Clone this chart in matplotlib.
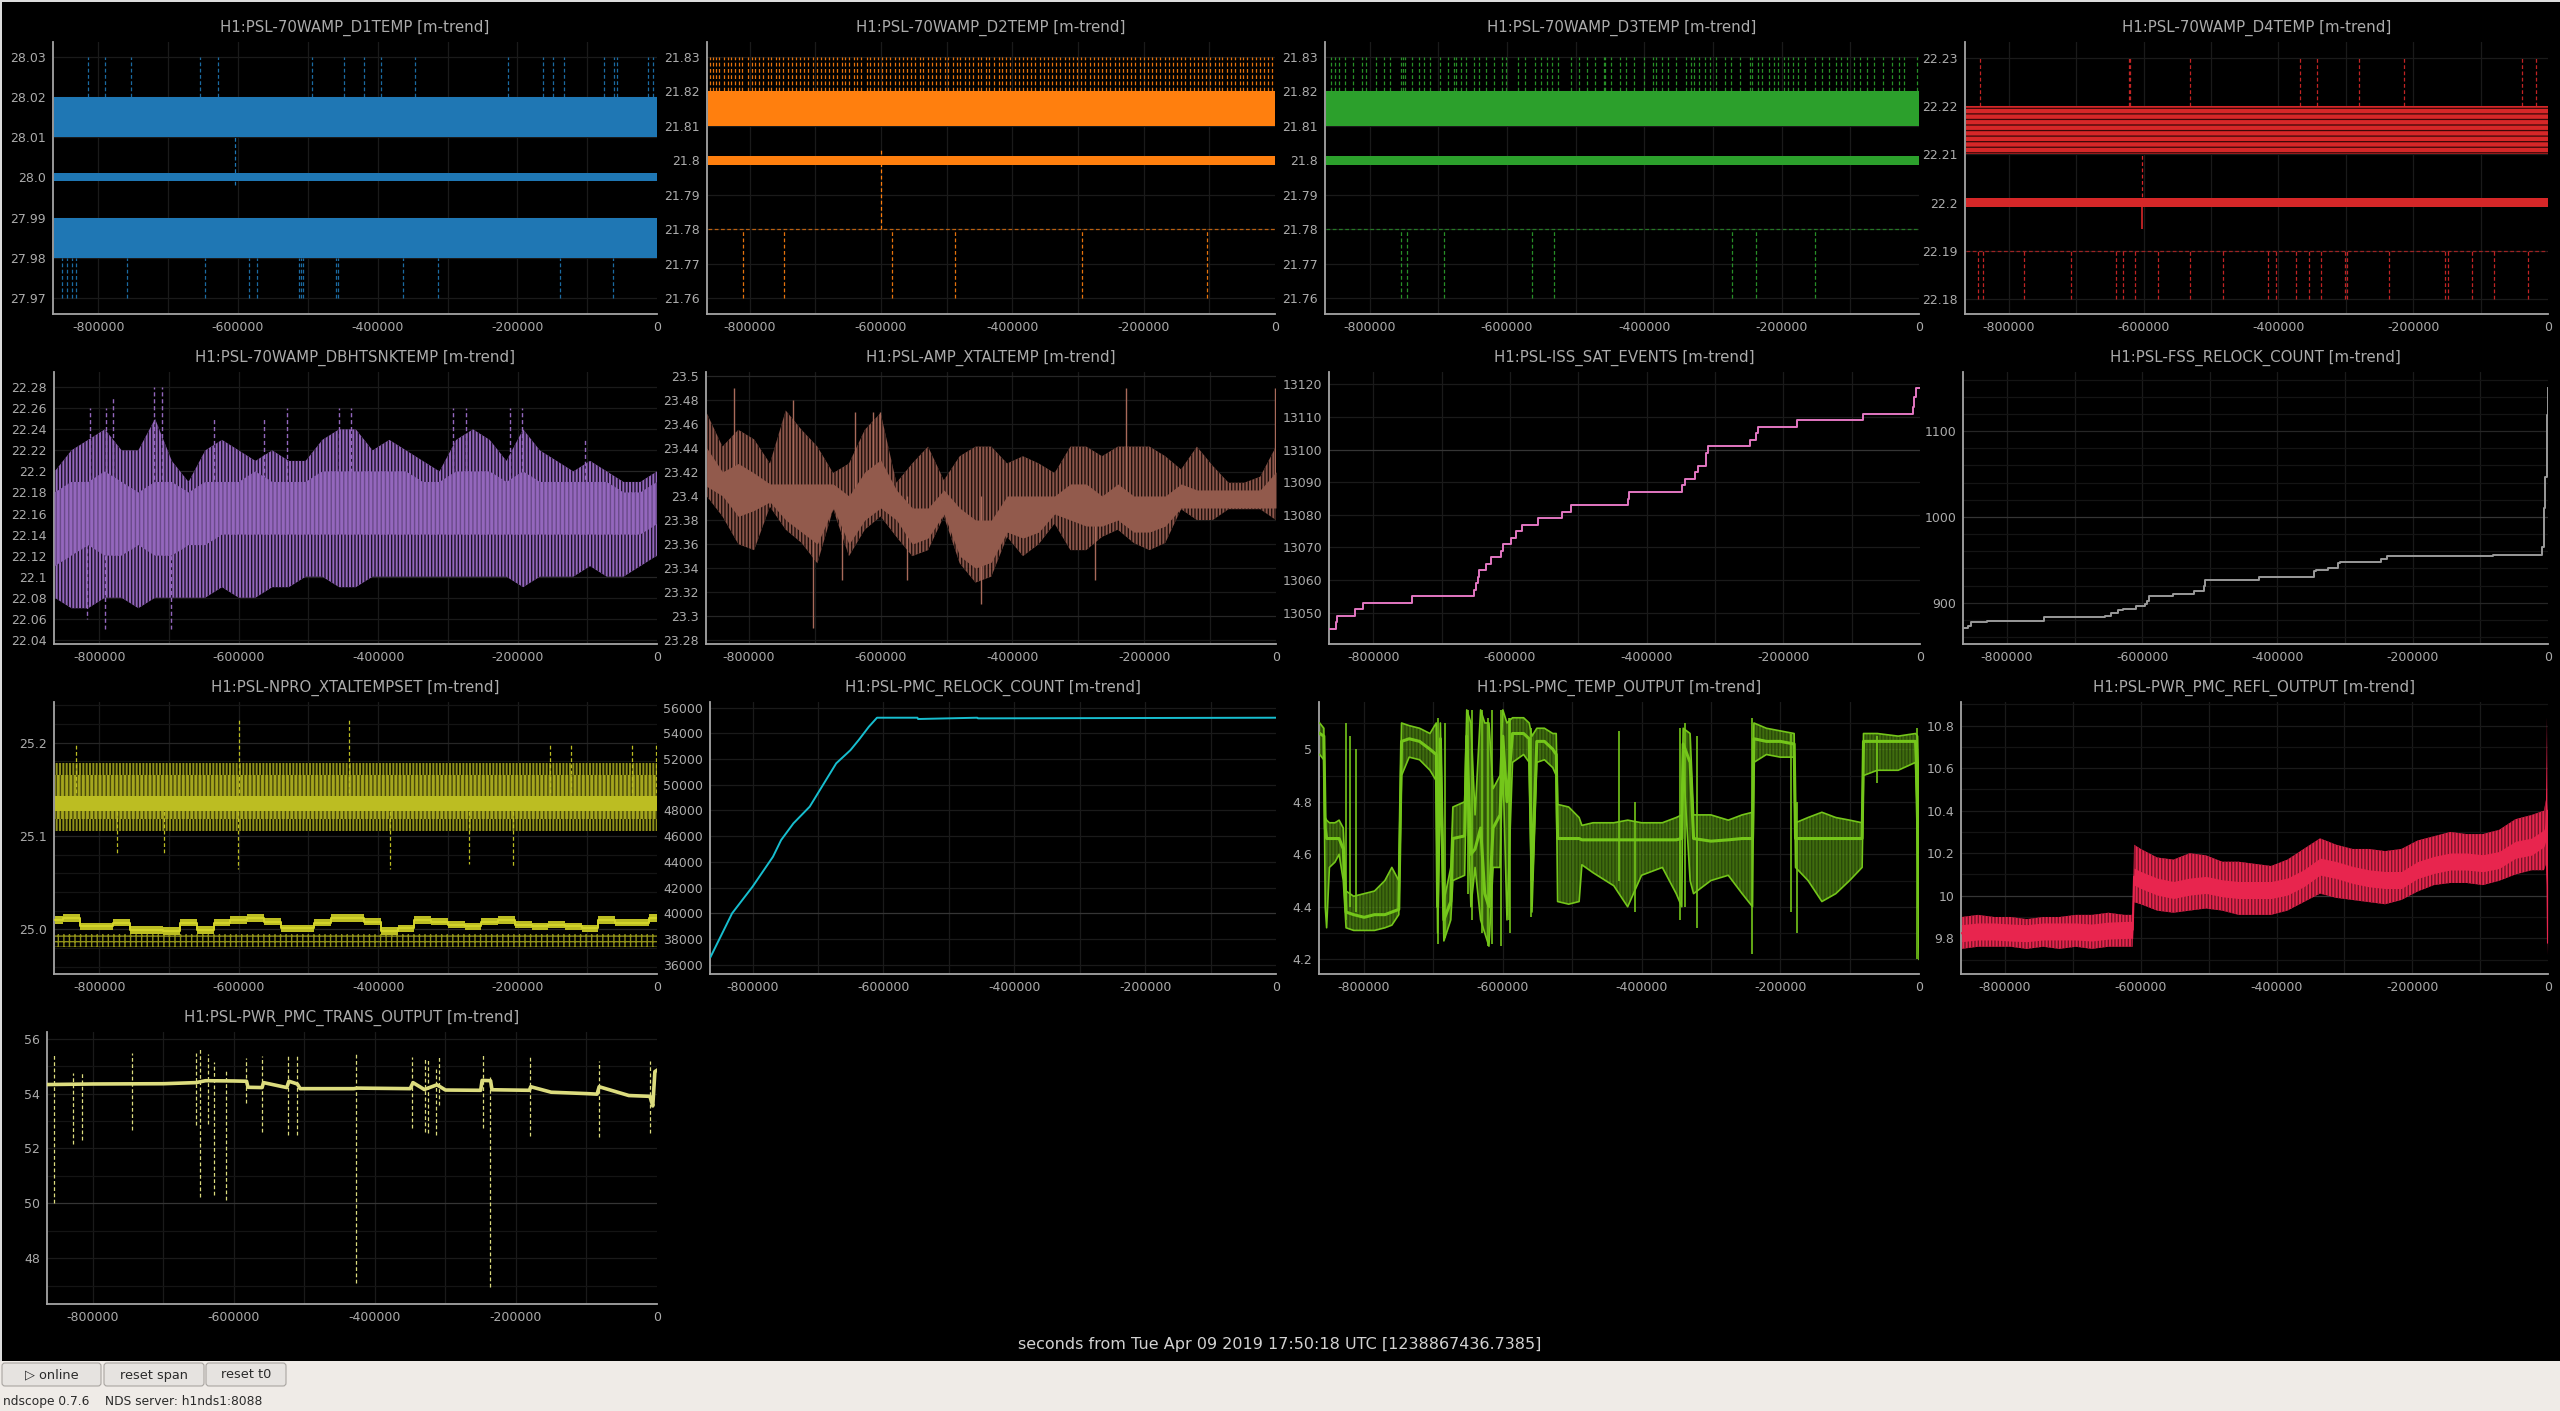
import matplotlib
matplotlib.use('Agg')
import matplotlib.pyplot as plt
from matplotlib.patches import Rectangle, FancyBboxPatch

W, H = 2560, 1411
plt.rcParams['font.family'] = ['DejaVu Sans']
plt.rcParams['hatch.linewidth'] = 1.0
plt.rcParams['axes.unicode_minus'] = False

# ---------------- data ----------------
XMIN = -865000
xticks = [-800000, -600000, -400000, -200000, 0]
xlabels = ['-800000', '-600000', '-400000', '-200000', '0']
xgrid = [-800000, -700000, -600000, -500000, -400000, -300000, -200000, -100000]
span = [-864000, 0]

knots = [-864000, -840000, -816000, -792000, -768000, -744000, -720000, -696000, -672000,
         -648000, -624000, -600000, -576000, -552000, -528000, -504000, -480000, -456000,
         -432000, -408000, -384000, -360000, -336000, -312000, -288000, -264000, -240000,
         -216000, -192000, -168000, -144000, -120000, -96000, -72000, -48000, -24000, 0]

# D1TEMP
d1_up = [-814900, -790700, -753600, -653900, -629000, -494600, -448700, -419000, -394900,
         -346000, -212700, -163900, -149000, -132900, -76400, -61000, -56600, -13300, -5300]
d1_down = [-852100, -845300, -837200, -832300, -759700, -647600, -583900, -573300, -513200,
           -509400, -506400, -459900, -456900, -363300, -313700, -139000, -63400]

# D2TEMP
d2_up = [-861000, -856000, -851000, -846000, -839000, -833000, -829000, -822000, -816000,
         -811000, -803000, -797000, -792000, -786000, -779000, -772000, -768000, -760000,
         -755000, -749000, -741000, -736000, -730000, -723000, -717000, -711000, -704000,
         -698000, -692000, -686000, -679000, -673000, -667000, -660000, -655000, -648000,
         -641000, -636000, -630000, -622000, -617000, -611000, -604000, -598000, -593000,
         -586000, -579000, -573000, -567000, -561000, -554000, -548000, -541000, -536000,
         -529000, -523000, -517000, -510000, -503000, -498000, -491000, -485000, -479000,
         -472000, -466000, -460000, -453000, -447000, -440000, -435000, -428000, -421000,
         -416000, -409000, -403000, -396000, -390000, -384000, -377000, -371000, -365000,
         -358000, -352000, -346000, -339000, -333000, -327000, -320000, -314000, -308000,
         -301000, -295000, -289000, -282000, -276000, -270000, -263000, -257000, -251000,
         -244000, -238000, -232000, -225000, -219000, -213000, -206000, -200000, -194000,
         -187000, -181000, -175000, -168000, -162000, -156000, -149000, -143000, -137000,
         -130000, -124000, -118000, -111000, -105000, -99000, -92000, -86000, -80000,
         -73000, -67000, -61000, -54000, -48000, -42000, -35000, -29000, -23000, -16000,
         -10000, -4000]
d2_down = [-809900, -747800, -583900, -486900, -293200, -104300]

# D3TEMP
d3_up = [-856800, -850900, -844900, -835400, -823500, -811600, -805700, -791400, -779500,
         -770000, -754500, -752100, -748500, -737800, -728300, -721200, -711600, -697400,
         -685500, -677100, -673600, -666400, -659300, -647400, -640300, -630700, -618800,
         -606900, -601000, -584300, -573600, -559300, -551000, -541500, -534300, -526000,
         -507000, -495000, -483200, -471300, -459400, -457000, -448700, -435600, -426000,
         -415300, -401100, -388000, -383200, -374900, -365400, -353500, -339200, -332000,
         -327300, -320100, -311800, -304700, -296300, -283200, -273700, -260600, -246300,
         -242800, -234400, -228500, -219000, -211800, -204700, -196400, -190400, -183300,
         -176100, -165400, -151200, -141700, -131000, -121400, -114300, -104800, -94000,
         -85700, -76200, -65500, -52400, -39300, -29800, -21500, -3600]
d3_down = [-754500, -746200, -691400, -564100, -530800, -272600, -238000, -151200]

# D4TEMP
d4_up = [-842700, -622000, -620500, -530500, -368400, -342700, -280600, -213500, -37900, -18400]
d4_down = [-845100, -837800, -778000, -707300, -640300, -630500, -613500, -579300, -531700,
           -481800, -414700, -403700, -373300, -355000, -336700, -301300, -298900, -235500,
           -152500, -148800, -112300, -79400, -29400]

# DBHTSNKTEMP
dbht_hi = [22.20, 22.22, 22.23, 22.24, 22.22, 22.22, 22.25, 22.21, 22.19, 22.22, 22.23, 22.22,
           22.21, 22.22, 22.21, 22.21, 22.23, 22.24, 22.24, 22.22, 22.23, 22.22, 22.21, 22.20,
           22.23, 22.24, 22.23, 22.21, 22.24, 22.22, 22.21, 22.20, 22.21, 22.20, 22.19, 22.19, 22.20]
dbht_lo = [22.08, 22.07, 22.07, 22.08, 22.08, 22.07, 22.08, 22.08, 22.08, 22.08, 22.09, 22.08,
           22.08, 22.09, 22.09, 22.10, 22.10, 22.09, 22.09, 22.10, 22.10, 22.10, 22.10, 22.10,
           22.10, 22.10, 22.10, 22.10, 22.09, 22.10, 22.10, 22.10, 22.11, 22.10, 22.10, 22.11, 22.12]
dbht_core_hi = [22.18, 22.19, 22.19, 22.20, 22.19, 22.18, 22.19, 22.19, 22.18, 22.19, 22.19, 22.19,
                22.20, 22.19, 22.19, 22.19, 22.20, 22.20, 22.20, 22.20, 22.20, 22.20, 22.19, 22.19,
                22.20, 22.20, 22.20, 22.19, 22.20, 22.19, 22.19, 22.19, 22.19, 22.19, 22.18, 22.18, 22.19]
dbht_core_lo = [22.11, 22.12, 22.13, 22.12, 22.12, 22.13, 22.12, 22.12, 22.13, 22.13, 22.14, 22.14,
                22.14, 22.14, 22.14, 22.14, 22.14, 22.14, 22.14, 22.14, 22.14, 22.14, 22.14, 22.14,
                22.14, 22.14, 22.14, 22.14, 22.14, 22.14, 22.14, 22.14, 22.14, 22.14, 22.14, 22.14, 22.15]
dbht_spk_x = [-814000, -790000, -781000, -721800, -709800, -636000, -563900, -530700, -456500,
              -438400, -292600, -274500, -211000, -193000, -103700, -817000, -791700, -696500]
dbht_spk_y = [22.26, 22.26, 22.27, 22.28, 22.28, 22.25, 22.25, 22.26, 22.26,
              22.26, 22.26, 22.26, 22.26, 22.26, 22.23, 22.06, 22.05, 22.05]

# AMP_XTALTEMP
amp_hi = [23.469, 23.441, 23.455, 23.447, 23.427, 23.471, 23.455, 23.441, 23.419, 23.427, 23.455,
          23.469, 23.411, 23.427, 23.441, 23.413, 23.433, 23.441, 23.441, 23.427, 23.433, 23.427,
          23.419, 23.441, 23.441, 23.433, 23.441, 23.441, 23.441, 23.433, 23.422, 23.441, 23.425,
          23.411, 23.411, 23.416, 23.441]
amp_lo = [23.400, 23.383, 23.360, 23.355, 23.391, 23.372, 23.361, 23.344, 23.389, 23.350, 23.372,
          23.383, 23.366, 23.350, 23.355, 23.383, 23.344, 23.328, 23.333, 23.366, 23.350, 23.360,
          23.377, 23.355, 23.355, 23.366, 23.372, 23.361, 23.355, 23.361, 23.389, 23.380, 23.380,
          23.389, 23.389, 23.389, 23.380]
amp_core_hi = [23.440, 23.420, 23.427, 23.419, 23.410, 23.410, 23.410, 23.410, 23.410, 23.400,
               23.420, 23.430, 23.405, 23.390, 23.390, 23.405, 23.390, 23.380, 23.380, 23.400,
               23.400, 23.400, 23.400, 23.410, 23.410, 23.400, 23.410, 23.400, 23.400, 23.400,
               23.410, 23.405, 23.405, 23.405, 23.405, 23.405, 23.420]
amp_core_lo = [23.408, 23.400, 23.383, 23.388, 23.395, 23.380, 23.370, 23.360, 23.390, 23.360,
               23.380, 23.390, 23.380, 23.360, 23.365, 23.385, 23.350, 23.340, 23.345, 23.370,
               23.365, 23.370, 23.385, 23.380, 23.375, 23.375, 23.380, 23.370, 23.370, 23.375,
               23.390, 23.390, 23.390, 23.390, 23.390, 23.390, 23.390]
amp_spk_x = [-822100, -732800, -639200, -611300, -600200, -226900, -1800,
             -702400, -659100, -559900, -448300, -274600]
amp_spk_y = [23.49, 23.48, 23.47, 23.47, 23.47, 23.49, 23.49,
             23.29, 23.33, 23.33, 23.31, 23.33]

# ISS_SAT_EVENTS
iss_x = [-864000, -854600, -853400, -826700, -815800, -743000, -652600, -650200, -647100, -645400,
         -635000, -627700, -612600, -610100, -598600, -591400, -582900, -559200, -523900, -510600,
         -427500, -425800, -348100, -343800, -329300, -325100, -313500, -310500, -248600, -240100,
         -237000, -180100, -83500, -10200, -8300, -6000, 0]
iss_y = [13045, 13047, 13049, 13051, 13053, 13055, 13057, 13059, 13061, 13063,
         13065, 13067, 13069, 13071, 13073, 13075, 13077, 13079, 13081, 13083,
         13085, 13087, 13089, 13091, 13093, 13095, 13099, 13101, 13103, 13105,
         13107, 13109, 13111, 13113, 13116, 13119, 13119]

# FSS_RELOCK_COUNT
fss_x = [-864000, -858000, -853900, -829000, -745400, -654600, -646200, -635800, -627900, -609800,
         -596400, -593500, -590400, -555200, -523700, -508600, -506800, -426900, -346300, -343300,
         -325100, -309900, -307000, -247600, -237400, -179800, -81000, -9100, -5900, -4200,
         -1200, -500, 0]
fss_y = [870, 873, 877, 879, 883, 885, 888, 891, 893, 896,
         898, 902, 908, 910, 914, 919, 927, 930, 937, 938,
         941, 946, 948, 951, 954, 955, 956, 965, 1010, 1047,
         1119, 1150, 1150]

# NPRO_XTALTEMPSET
npro_mean = [25.010, 25.012, 25.003, 25.003, 25.007, 24.999, 24.999, 24.998, 25.007, 24.999,
             25.007, 25.010, 25.012, 25.008, 25.001, 25.001, 25.007, 25.012, 25.012, 25.008,
             24.998, 25.001, 25.010, 25.008, 25.005, 25.003, 25.008, 25.010, 25.005, 25.003,
             25.005, 25.003, 25.001, 25.010, 25.007, 25.007, 25.012]
npro_up_outer = [25.105, 25.178]
npro_up_mid = [25.118, 25.165]
npro_up_core = [25.127, 25.143]
npro_low_band = [24.981, 24.995]
npro_spk_x = [-834000, -600000, -442000, -153900, -123600, -36200, -1000,
              -775000, -706800, -601000, -383000, -270200, -206900]
npro_spk_y = [25.20, 25.225, 25.225, 25.20, 25.20, 25.20, 25.20,
              25.08, 25.08, 25.065, 25.065, 25.07, 25.068]

# PMC_RELOCK_COUNT
pmcrc_x = [-864000, -831200, -800000, -768800, -756300, -737500, -712600, -694000, -672100,
           -650300, -637800, -622200, -609800, -548000, -547000, -456500, -455500, 0]
pmcrc_y = [36620, 40000, 42070, 44400, 45700, 47000, 48300, 49850, 51670,
           52700, 53480, 54520, 55220, 55220, 55120, 55220, 55170, 55220]

# PMC_TEMP_OUTPUT
pmct_x = [-864000, -858000, -856000, -854000, -850000, -842000, -836000, -830000, -826000, -815000,
          -800000, -785000, -770000, -760000, -750000, -746000, -735000, -720000, -705000, -696000,
          -694000, -690000, -685000, -675000, -672000, -655000, -652000, -646000, -640000, -632000,
          -626000, -620000, -614000, -604000, -600000, -594000, -586000, -570000, -562000, -558000,
          -551000, -540000, -528000, -523000, -521000, -505000, -490000, -486000, -470000, -440000,
          -420000, -400000, -370000, -350000, -342000, -340000, -330000, -325000, -300000, -275000,
          -255000, -240000, -238000, -220000, -200000, -180000, -178000, -160000, -140000, -120000,
          -100000, -82000, -80000, -60000, -30000, -5000, -2000, 0]
pmct_lo = [4.98, 4.96, 4.40, 4.32, 4.55, 4.57, 4.60, 4.50, 4.32, 4.31,
           4.31, 4.31, 4.32, 4.33, 4.37, 4.90, 4.97, 4.96, 4.92, 4.88,
           4.30, 4.95, 4.27, 4.35, 4.50, 4.52, 4.95, 4.40, 4.55, 4.35,
           4.30, 4.25, 4.55, 4.55, 4.95, 4.35, 4.95, 4.98, 4.95, 4.38,
           4.95, 4.96, 4.93, 4.90, 4.42, 4.41, 4.42, 4.56, 4.53, 4.48,
           4.40, 4.52, 4.55, 4.45, 4.40, 4.95, 4.50, 4.45, 4.50, 4.52,
           4.45, 4.40, 4.95, 4.98, 4.97, 4.97, 4.55, 4.50, 4.42, 4.45,
           4.50, 4.55, 4.90, 4.92, 4.92, 4.95, 4.60, 4.20]
pmct_mean = [5.06, 5.05, 4.70, 4.66, 4.66, 4.66, 4.66, 4.62, 4.38, 4.37,
             4.36, 4.37, 4.37, 4.38, 4.39, 5.03, 5.04, 5.03, 5.00, 4.98,
             4.40, 5.04, 4.35, 4.42, 4.66, 4.67, 5.05, 4.60, 4.62, 4.70,
             4.45, 4.40, 4.70, 4.75, 5.05, 4.80, 5.06, 5.06, 5.04, 4.50,
             5.03, 5.03, 5.00, 4.98, 4.66, 4.66, 4.66, 4.655, 4.655, 4.655,
             4.655, 4.655, 4.655, 4.655, 4.66, 5.02, 4.95, 4.66, 4.65, 4.655,
             4.66, 4.66, 5.04, 5.03, 5.03, 5.02, 4.66, 4.66, 4.66, 4.66,
             4.66, 4.66, 5.03, 5.03, 5.03, 5.03, 4.80, 4.40]
pmct_hi = [5.10, 5.08, 4.74, 4.73, 4.72, 4.72, 4.73, 4.70, 4.46, 4.44,
           4.45, 4.46, 4.50, 4.55, 4.50, 5.10, 5.09, 5.08, 5.06, 5.10,
           4.50, 5.10, 4.42, 4.55, 4.78, 4.80, 5.15, 5.10, 4.75, 5.15,
           5.10, 5.10, 4.85, 4.90, 5.15, 5.10, 5.12, 5.12, 5.10, 5.05,
           5.08, 5.08, 5.06, 5.06, 4.79, 4.78, 4.74, 4.71, 4.72, 4.72,
           4.73, 4.72, 4.72, 4.74, 4.75, 5.08, 5.06, 4.75, 4.75, 4.73,
           4.75, 4.76, 5.10, 5.08, 5.07, 5.06, 4.72, 4.74, 4.76, 4.74,
           4.73, 4.72, 5.06, 5.06, 5.05, 5.06, 5.05, 4.80]
pmct_spk_x = [-826000, -820000, -812000, -693000, -684000, -650000, -644000, -630000, -622000,
              -616000, -603000, -591000, -589000, -559000, -432000, -410000, -345000, -338000,
              -320000, -241000, -185000, -176000, -60000, -3000]
pmct_spk_lo = [4.35, 4.40, 4.38, 4.26, 4.28, 4.45, 4.35, 4.30, 4.25,
               4.26, 4.25, 4.35, 4.30, 4.36, 4.50, 4.38, 4.35, 4.40,
               4.32, 4.22, 4.38, 4.30, 4.87, 4.20]
pmct_spk_hi = [5.10, 5.05, 5.00, 5.12, 5.10, 5.15, 5.15, 5.15, 5.12,
               5.15, 5.15, 5.12, 5.12, 5.08, 5.07, 4.80, 5.08, 5.10,
               5.05, 5.12, 5.06, 4.80, 5.05, 5.08]

# PWR_PMC_REFL_OUTPUT
refl_x = [-864000, -840000, -816000, -792000, -768000, -744000, -720000, -696000, -672000, -648000,
          -624000, -612000, -610000, -600000, -576000, -552000, -528000, -504000, -480000, -456000,
          -432000, -408000, -384000, -360000, -336000, -312000, -288000, -264000, -240000, -216000,
          -192000, -168000, -144000, -120000, -96000, -72000, -48000, -24000, -6000, -3000, -1500, 0]
refl_mean = [9.824, 9.832, 9.832, 9.827, 9.824, 9.832, 9.832, 9.832, 9.827, 9.836,
             9.839, 9.840, 10.090, 10.074, 10.043, 10.027, 10.043, 10.051, 10.035, 10.027,
             10.027, 10.027, 10.043, 10.082, 10.137, 10.121, 10.098, 10.082, 10.074, 10.074,
             10.121, 10.145, 10.161, 10.161, 10.153, 10.168, 10.216, 10.231, 10.270, 10.300, 10.400, 9.780]
refl_hi = [9.90, 9.91, 9.90, 9.90, 9.89, 9.90, 9.90, 9.91, 9.91, 9.92,
           9.91, 9.91, 10.24, 10.22, 10.18, 10.17, 10.20, 10.19, 10.16, 10.16,
           10.15, 10.14, 10.17, 10.22, 10.27, 10.24, 10.22, 10.22, 10.21, 10.22,
           10.26, 10.28, 10.30, 10.29, 10.29, 10.31, 10.36, 10.38, 10.40, 10.45, 10.84, 9.85]
refl_lo = [9.75, 9.76, 9.76, 9.76, 9.75, 9.76, 9.75, 9.76, 9.75, 9.76,
           9.76, 9.76, 9.97, 9.96, 9.93, 9.92, 9.93, 9.94, 9.93, 9.91,
           9.91, 9.91, 9.93, 9.97, 10.01, 9.99, 9.98, 9.97, 9.96, 9.98,
           10.02, 10.05, 10.06, 10.06, 10.05, 10.07, 10.10, 10.12, 10.12, 10.15, 10.05, 9.72]

# PWR_PMC_TRANS_OUTPUT
trans_x = [-864000, -800000, -700000, -654000, -640000, -600000, -582000, -580000, -560000, -558000,
           -525000, -522000, -510000, -506000, -430000, -425000, -350000, -346000, -330000, -312000,
           -300000, -250000, -248000, -236000, -234000, -181000, -179000, -150000, -100000, -85000,
           -82000, -40000, -10000, -6000, -3000, 0]
trans_y = [54.33, 54.35, 54.36, 54.40, 54.47, 54.46, 54.45, 54.23, 54.22, 54.40,
           54.22, 54.45, 54.35, 54.18, 54.18, 54.20, 54.18, 54.40, 54.15, 54.32,
           54.13, 54.12, 54.48, 54.47, 54.14, 54.12, 54.25, 54.05, 54.00, 53.98,
           54.25, 53.93, 53.90, 53.55, 54.80, 54.85]
trans_spk_x = [-855200, -828400, -815400, -744000, -653300, -648400, -636500, -628500, -611000,
               -582500, -559500, -523500, -509800, -426600, -347100, -328500, -324800, -313000,
               -309300, -247200, -237300, -180100, -82000, -9300]
trans_spk_lo = [50.03, 52.16, 52.30, 52.67, 52.86, 50.22, 52.90, 50.30, 50.12,
                53.64, 52.60, 52.50, 52.50, 47.09, 52.73, 52.60, 52.58, 52.50,
                53.60, 52.73, 46.94, 52.46, 52.41, 52.55]
trans_spk_hi = [55.40, 54.74, 54.80, 55.47, 55.47, 55.68, 55.44, 55.16, 54.86,
                55.28, 55.37, 55.39, 55.39, 55.44, 55.34, 55.34, 55.30, 54.90,
                55.32, 55.40, 54.60, 55.32, 55.20, 55.20]

# ---------------- styling ----------------
AXIS = '#a4a4a4'
TXT = '#ababab'
GRID = '#1a1a1a'
GRID_MID = '#262626'
GRID_HI = '#353535'
DASH = (0, (3, 2))

fig = plt.figure(figsize=(W / 100, H / 100), dpi=100, facecolor='black')


def px_axes(l, r, t, b):
    return fig.add_axes([l / W, 1 - b / H, (r - l) / W, (b - t) / H])


def style(ax, title, ylim, yticks, ylabels, minor=(), mid=(), bright=()):
    ax.set_facecolor('black')
    ax.set_xlim(XMIN, 0)
    ax.set_ylim(*ylim)
    for s in ['top', 'right']:
        ax.spines[s].set_visible(False)
    for s in ['left', 'bottom']:
        ax.spines[s].set_color(AXIS)
        ax.spines[s].set_linewidth(1.3)
    ax.set_xticks(xticks)
    ax.set_xticklabels(xlabels)
    ax.set_yticks(yticks)
    ax.set_yticklabels(ylabels)
    ax.tick_params(length=0, labelsize=9, colors=TXT, pad=5)
    for g in xgrid:
        ax.axvline(g, color=GRID, lw=0.9, zorder=0)
    for y in minor:
        ax.axhline(y, color='#141414', lw=0.9, zorder=0)
    for y in yticks:
        c = GRID_HI if y in bright else (GRID_MID if y in mid else GRID)
        ax.axhline(y, color=c, lw=0.9, zorder=0)
    ax.set_title(title, color=TXT, fontsize=10.8, pad=7)


def dtemp(ax, color, bands, mean, up_x, up_y, dn_x, dn_y, minline=None, hatch=None,
          hatch_color='black', mid_spike=None):
    for lo, hi in bands:
        if hatch:
            plt.rcParams['hatch.linewidth'] = 0.9
            ax.fill_between(span, lo, hi, facecolor=color, edgecolor=hatch_color, hatch=hatch, lw=0, zorder=2)
        else:
            ax.fill_between(span, lo, hi, color=color, lw=0, zorder=2)
    ax.fill_between(span, mean[0], mean[1], color=color, lw=0, zorder=3)
    ax.vlines(up_x, up_y[0], up_y[1], colors=color, lw=0.9, linestyles=DASH, alpha=0.9, zorder=2)
    ax.vlines(dn_x, dn_y[0], dn_y[1], colors=color, lw=0.9, linestyles=DASH, alpha=0.9, zorder=2)
    if minline is not None:
        ax.hlines(minline, span[0], span[1], colors=color, lw=0.9, linestyles=DASH, alpha=0.7, zorder=2)
    if mid_spike is not None:
        ax.vlines(mid_spike[0], mid_spike[1], mid_spike[2], colors=color, lw=0.9, linestyles=DASH, zorder=2)


row_tb = [(42, 314), (372, 644), (702, 974), (1032, 1304)]

# ---- row 1 ----
ax = px_axes(53, 657, *row_tb[0])
style(ax, 'H1:PSL-70WAMP_D1TEMP [m-trend]', (27.966, 28.0337),
      [27.97, 27.98, 27.99, 28.0, 28.01, 28.02, 28.03],
      ['27.97', '27.98', '27.99', '28.0', '28.01', '28.02', '28.03'])
dtemp(ax, '#1f77b4', [(27.98, 27.99), (28.01, 28.02)], (27.9990, 28.0010),
      d1_up, (28.02, 28.03), d1_down, (27.97, 27.98), mid_spike=(-603700, 27.998, 28.01))

ax = px_axes(707, 1275, *row_tb[0])
style(ax, 'H1:PSL-70WAMP_D2TEMP [m-trend]', (21.7555, 21.8343),
      [21.76, 21.77, 21.78, 21.79, 21.8, 21.81, 21.82, 21.83],
      ['21.76', '21.77', '21.78', '21.79', '21.8', '21.81', '21.82', '21.83'])
dtemp(ax, '#ff7f0e', [(21.81, 21.82)], (21.7988, 21.8012),
      d2_up, (21.82, 21.83), d2_down, (21.76, 21.78), minline=21.78,
      mid_spike=(-600000, 21.78, 21.803))

ax = px_axes(1325, 1919, *row_tb[0])
style(ax, 'H1:PSL-70WAMP_D3TEMP [m-trend]', (21.7555, 21.8343),
      [21.76, 21.77, 21.78, 21.79, 21.8, 21.81, 21.82, 21.83],
      ['21.76', '21.77', '21.78', '21.79', '21.8', '21.81', '21.82', '21.83'])
dtemp(ax, '#2ca02c', [(21.81, 21.82)], (21.7988, 21.8012),
      d3_up, (21.82, 21.83), d3_down, (21.76, 21.78), minline=21.78)

ax = px_axes(1965, 2548, *row_tb[0])
style(ax, 'H1:PSL-70WAMP_D4TEMP [m-trend]', (22.1769, 22.2333),
      [22.18, 22.19, 22.2, 22.21, 22.22, 22.23],
      ['22.18', '22.19', '22.2', '22.21', '22.22', '22.23'])
dtemp(ax, '#d62728', [(22.21, 22.22)], (22.1991, 22.2009),
      d4_up, (22.22, 22.23), d4_down, (22.18, 22.19), minline=22.19, hatch='---',
      hatch_color='#3a0808', mid_spike=(-602500, 22.2, 22.21))
ax.vlines([-602500], 22.1945, 22.2, colors='#d62728', lw=1.2, zorder=3)

# ---- row 2 ----
ax = px_axes(54, 657, *row_tb[1])
style(ax, 'H1:PSL-70WAMP_DBHTSNKTEMP [m-trend]', (22.036, 22.2945),
      [22.04, 22.06, 22.08, 22.1, 22.12, 22.14, 22.16, 22.18, 22.2, 22.22, 22.24, 22.26, 22.28],
      ['22.04', '22.06', '22.08', '22.1', '22.12', '22.14', '22.16', '22.18', '22.2', '22.22',
       '22.24', '22.26', '22.28'], mid=(22.1, 22.2))
c = '#9467bd'
plt.rcParams['hatch.linewidth'] = 1.0
ax.fill_between(knots, dbht_lo, dbht_hi, facecolor=c, edgecolor='#1c1226', hatch='|||||', lw=0, zorder=2)
ax.fill_between(knots, dbht_core_lo, dbht_core_hi, facecolor=c, edgecolor='#6a4a8a', hatch='||||', lw=0, zorder=3)
ax.vlines(dbht_spk_x, 22.16, dbht_spk_y, colors=c, lw=1.0, linestyles=DASH, zorder=2)

ax = px_axes(706, 1276, *row_tb[1])
style(ax, 'H1:PSL-AMP_XTALTEMP [m-trend]', (23.277, 23.503),
      [23.28, 23.3, 23.32, 23.34, 23.36, 23.38, 23.4, 23.42, 23.44, 23.46, 23.48, 23.5],
      ['23.28', '23.3', '23.32', '23.34', '23.36', '23.38', '23.4', '23.42', '23.44', '23.46',
       '23.48', '23.5'], mid=(23.3, 23.4, 23.5))
c = '#8c564b'
ax.fill_between(knots, amp_lo, amp_hi, facecolor=c, edgecolor='#1e100c', hatch='|||||', lw=0, zorder=2)
ax.fill_between(knots, amp_core_lo, amp_core_hi, color='#925a4c', lw=0, zorder=3)
ax.vlines(amp_spk_x, 23.40, amp_spk_y, colors='#a86a5a', lw=1.0, zorder=2)

ax = px_axes(1329, 1920, *row_tb[1])
style(ax, 'H1:PSL-ISS_SAT_EVENTS [m-trend]', (13040.4, 13123.8),
      [13050, 13060, 13070, 13080, 13090, 13100, 13110, 13120],
      ['13050', '13060', '13070', '13080', '13090', '13100', '13110', '13120'], bright=(13100,))
ax.step(iss_x, iss_y, where='post', color='#e377c2', lw=1.4, zorder=3)

ax = px_axes(1963, 2548, *row_tb[1])
style(ax, 'H1:PSL-FSS_RELOCK_COUNT [m-trend]', (851.9, 1168.8),
      [900, 1000, 1100], ['900', '1000', '1100'],
      minor=[860, 880, 920, 940, 960, 980, 1020, 1040, 1060, 1080, 1120, 1140, 1160],
      mid=(900, 1100), bright=(1000,))
ax.step(fss_x, fss_y, where='post', color='#9a9a9a', lw=1.4, zorder=3)

# ---- row 3 ----
ax = px_axes(54, 657, *row_tb[2])
style(ax, 'H1:PSL-NPRO_XTALTEMPSET [m-trend]', (24.952, 25.2436),
      [25.0, 25.1, 25.2], ['25.0', '25.1', '25.2'],
      minor=[24.96, 24.98, 25.02, 25.04, 25.06, 25.08, 25.12, 25.14, 25.16, 25.18, 25.22, 25.24],
      mid=(25.0, 25.1, 25.2))
c = '#bcbd22'
ax.fill_between(span, *npro_up_outer, facecolor='#8f9019', edgecolor='#101002', hatch='|||||', lw=0, zorder=2)
ax.fill_between(span, *npro_up_mid, facecolor='#a5a61e', edgecolor='#4a4a0a', hatch='||||', lw=0, zorder=2)
ax.fill_between(span, *npro_up_core, color=c, lw=0, zorder=3)
ax.fill_between(span, *npro_low_band, facecolor='none', edgecolor='#8f9019', hatch='+++', lw=0, zorder=2)
ax.vlines(npro_spk_x, 25.14, npro_spk_y, colors=c, lw=0.9, linestyles=DASH, zorder=2)
ax.fill_between(knots, [m - 0.004 for m in npro_mean], [m + 0.004 for m in npro_mean],
                color=c, lw=0, step='mid', zorder=3)
ax.step(knots, npro_mean, where='mid', color='#d4d52a', lw=1.4, zorder=4)

ax = px_axes(710, 1276, *row_tb[2])
style(ax, 'H1:PSL-PMC_RELOCK_COUNT [m-trend]', (35276, 56443),
      [36000, 38000, 40000, 42000, 44000, 46000, 48000, 50000, 52000, 54000, 56000],
      ['36000', '38000', '40000', '42000', '44000', '46000', '48000', '50000', '52000',
       '54000', '56000'], bright=(40000,))
ax.plot(pmcrc_x, pmcrc_y, color='#17becf', lw=1.4, zorder=3)

ax = px_axes(1319, 1919, *row_tb[2])
style(ax, 'H1:PSL-PMC_TEMP_OUTPUT [m-trend]', (4.144, 5.180),
      [4.2, 4.4, 4.6, 4.8, 5.0], ['4.2', '4.4', '4.6', '4.8', '5'],
      minor=[4.3, 4.5, 4.7, 4.9, 5.1])
c = '#74c61a'
ax.fill_between(pmct_x, pmct_lo, pmct_hi, facecolor=c, edgecolor='#1a2e06', hatch='|||||',
                alpha=0.55, lw=0, zorder=2)
ax.plot(pmct_x, pmct_hi, color=c, lw=1.2, zorder=3)
ax.plot(pmct_x, pmct_lo, color=c, lw=1.2, zorder=3)
ax.plot(pmct_x, pmct_mean, color=c, lw=2.2, zorder=4)
ax.vlines(pmct_spk_x, pmct_spk_lo, pmct_spk_hi, colors=c, lw=1.2, zorder=3)

ax = px_axes(1961, 2548, *row_tb[2])
style(ax, 'H1:PSL-PWR_PMC_REFL_OUTPUT [m-trend]', (9.632, 10.911),
      [9.8, 10.0, 10.2, 10.4, 10.6, 10.8], ['9.8', '10', '10.2', '10.4', '10.6', '10.8'],
      minor=[9.7, 9.9, 10.1, 10.3, 10.5, 10.7, 10.9], bright=(10.0,))
c = '#e8254e'
ax.fill_between(refl_x, refl_lo, refl_hi, facecolor=c, edgecolor='#7a1429', hatch='|||||', lw=0, zorder=2)
ax.fill_between(refl_x, [m - 0.04 for m in refl_mean], [m + 0.04 for m in refl_mean],
                color=c, lw=0, zorder=3)
ax.plot(refl_x, refl_mean, color=c, lw=1.5, zorder=4)

# ---- row 4 ----
ax = px_axes(47, 657, *row_tb[3])
style(ax, 'H1:PSL-PWR_PMC_TRANS_OUTPUT [m-trend]', (46.335, 56.244),
      [48, 50, 52, 54, 56], ['48', '50', '52', '54', '56'],
      minor=[47, 49, 51, 53, 55], bright=(50,))
c = '#dcdc7e'
ax.vlines(trans_spk_x, trans_spk_lo, trans_spk_hi, colors=c, lw=0.9, linestyles=DASH, zorder=2)
ax.plot(trans_x, trans_y, color=c, lw=2.6, zorder=3)

# ---------------- window chrome ----------------
fig.text(1280 / W, 1 - 1344 / H, 'seconds from Tue Apr 09 2019 17:50:18 UTC [1238867436.7385]',
         color='#d2d2d2', fontsize=11.5, ha='center', va='center')

ui = fig.add_axes([0, 0, 1, 1])
ui.set_xlim(0, W)
ui.set_ylim(H, 0)
ui.axis('off')
ui.add_patch(Rectangle((0, 1361), W, 50, color='#efebe7', lw=0))
ui.add_patch(Rectangle((0, 0), W, 2, color='#dcdcdc', lw=0))
ui.add_patch(Rectangle((0, 0), 2, 1361, color='#dcdcdc', lw=0))
buttons = [(2, 99, '\u25b7 online'), (104, 100, 'reset span'), (206, 80, 'reset t0')]
for bx, bw, label in buttons:
    ui.add_patch(FancyBboxPatch((bx, 1363), bw, 23, boxstyle='round,pad=0,rounding_size=3',
                                fc='#e6e3e0', ec='#a9a5a1', lw=0.8))
    ui.text(bx + bw / 2, 1375, label, fontsize=9.3, color='#2a2a2a', ha='center', va='center')
ui.text(3, 1402, 'ndscope 0.7.6    NDS server: h1nds1:8088', fontsize=8.8, color='#2a2a2a',
        ha='left', va='center')

fig.savefig('out.png', dpi=100, facecolor='black')
